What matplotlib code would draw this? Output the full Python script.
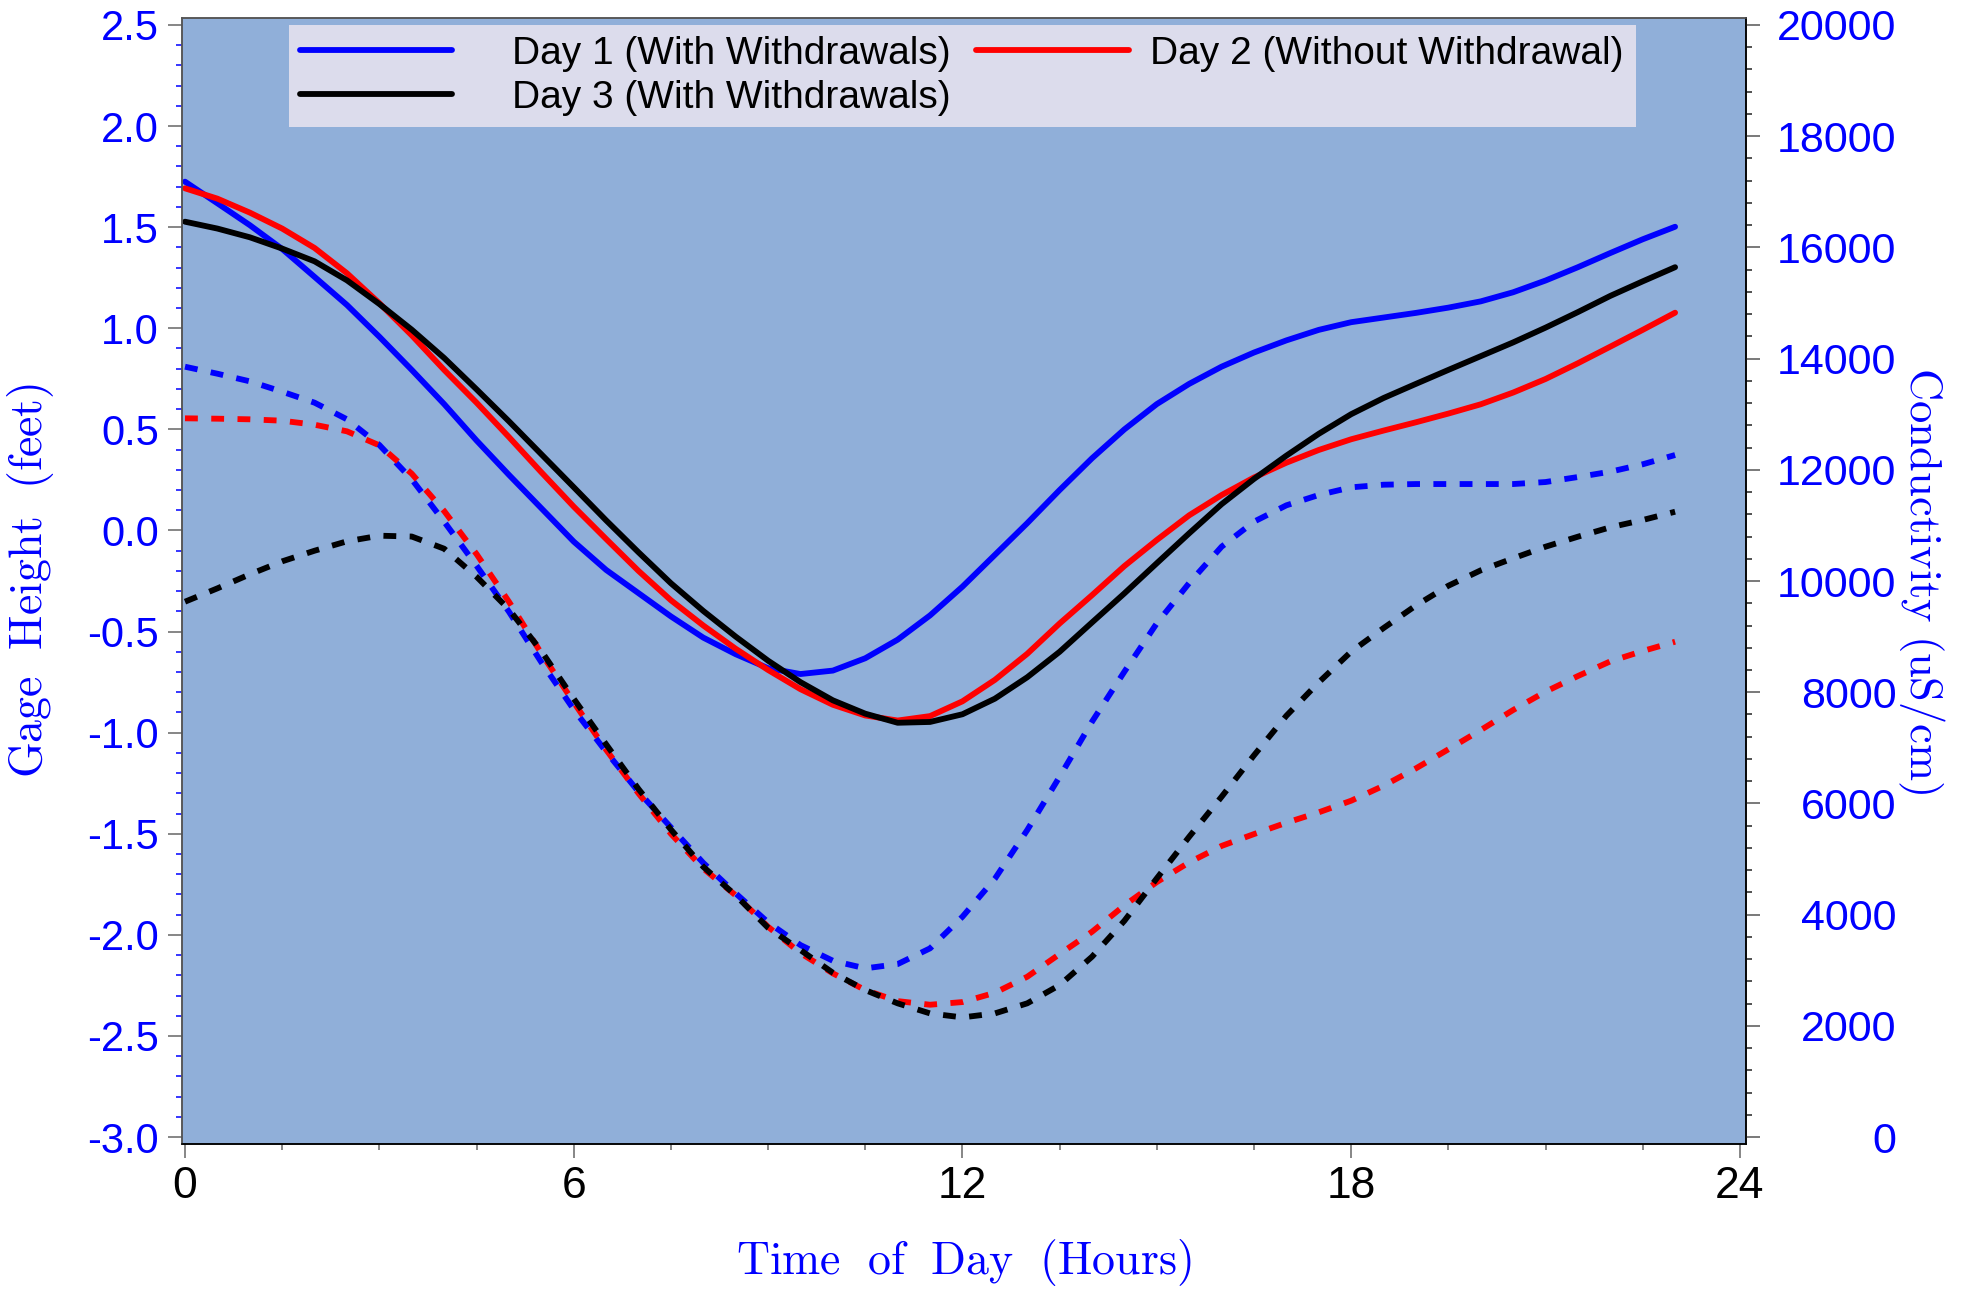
import matplotlib
matplotlib.use("Agg")
import matplotlib.pyplot as plt
from matplotlib.ticker import MultipleLocator, FormatStrFormatter

plt.rcParams['font.family'] = ['Liberation Sans', 'DejaVu Sans']
plt.rcParams['mathtext.fontset'] = 'cm'
plt.rcParams['axes.unicode_minus'] = False

# time of day (hours), read every half hour
hours = [0, 0.5, 1, 1.5, 2, 2.5, 3, 3.5, 4, 4.5, 5, 5.5, 6, 6.5, 7, 7.5, 8, 8.5, 9, 9.5,
         10, 10.5, 11, 11.5, 12, 12.5, 13, 13.5, 14, 14.5, 15, 15.5, 16, 16.5, 17, 17.5,
         18, 18.5, 19, 19.5, 20, 20.5, 21, 21.5, 22, 22.5, 23]

# gage height (feet), left axis
gage_day1 = [1.725, 1.618, 1.51, 1.392, 1.254, 1.115, 0.958, 0.794, 0.625, 0.445,
             0.275, 0.11, -0.055, -0.195, -0.31, -0.425, -0.53, -0.612, -0.681, -0.710,
             -0.693, -0.632, -0.540, -0.42, -0.278, -0.121, 0.036, 0.200, 0.357, 0.50,
             0.625, 0.725, 0.81, 0.88, 0.94, 0.992, 1.030, 1.053, 1.076, 1.102,
             1.133, 1.178, 1.236, 1.302, 1.372, 1.44, 1.502]
gage_day2 = [1.692, 1.641, 1.572, 1.493, 1.397, 1.272, 1.124, 0.965, 0.794, 0.632,
             0.462, 0.288, 0.118, -0.042, -0.200, -0.345, -0.47, -0.585, -0.690, -0.785,
             -0.862, -0.915, -0.940, -0.918, -0.845, -0.739, -0.61, -0.46, -0.32, -0.176,
             -0.047, 0.075, 0.175, 0.262, 0.335, 0.398, 0.451, 0.494, 0.535, 0.578,
             0.624, 0.682, 0.749, 0.827, 0.909, 0.992, 1.077]
gage_day3 = [1.527, 1.493, 1.450, 1.394, 1.331, 1.237, 1.120, 0.993, 0.853, 0.698,
             0.540, 0.377, 0.214, 0.050, -0.108, -0.261, -0.398, -0.525, -0.644, -0.750,
             -0.840, -0.906, -0.951, -0.947, -0.909, -0.832, -0.726, -0.60, -0.455, -0.311,
             -0.162, -0.014, 0.13, 0.255, 0.370, 0.478, 0.575, 0.655, 0.725, 0.794,
             0.862, 0.930, 1.003, 1.080, 1.160, 1.232, 1.302]

# conductivity (uS/cm), right axis
cond_day1 = [13854, 13728, 13591, 13405, 13207, 12908, 12446, 11829, 11067, 10275,
             9448, 8540, 7690, 6930, 6210, 5570, 4930, 4383, 3861, 3453,
             3171, 3034, 3111, 3394, 3962, 4645, 5521, 6480, 7470, 8370,
             9239, 9964, 10617, 11067, 11361, 11547, 11685, 11732, 11744, 11744,
             11744, 11744, 11780, 11870, 11966, 12099, 12266]
cond_day2 = [12926, 12919, 12908, 12883, 12811, 12692, 12440, 11930, 11259, 10485,
             9628, 8699, 7818, 6966, 6181, 5455, 4830, 4347, 3782, 3309,
             2944, 2644, 2445, 2380, 2428, 2595, 2883, 3291, 3692, 4167,
             4586, 4940, 5236, 5449, 5653, 5840, 6049, 6318, 6631, 6973,
             7320, 7680, 8010, 8291, 8555, 8741, 8908]
cond_day3 = [9628, 9868, 10120, 10354, 10545, 10714, 10815, 10800, 10581, 10077,
             9490, 8741, 7883, 7063, 6259, 5530, 4860, 4347, 3764, 3363,
             2955, 2644, 2405, 2224, 2152, 2224, 2405, 2733, 3243, 3890,
             4653, 5401, 6120, 6865, 7577, 8178, 8730, 9154, 9560, 9915,
             10192, 10408, 10617, 10797, 10966, 11097, 11246]

labels = ['Day 1 (With Withdrawals)', 'Day 2 (Without Withdrawal)', 'Day 3 (With Withdrawals)']
colors = ['#0000FF', '#FF0000', '#000000']

fig = plt.figure(figsize=(19.65, 12.90), dpi=100)
ax = fig.add_axes([0.0925, 0.1129, 0.7959, 0.8734])
ax.set_facecolor('#90AFD9')
ax2 = ax.twinx()

lw = 4.2
lines = []
for g, c, lab in zip([gage_day1, gage_day2, gage_day3], colors, labels):
    l, = ax.plot(hours, g, color=c, lw=lw, solid_capstyle='round',
                 solid_joinstyle='round', label=lab)
    lines.append(l)
for k, c in zip([cond_day1, cond_day2, cond_day3], colors):
    ax2.plot(hours, k, color=c, lw=lw, linestyle=(0, (2.2, 2.3)), dash_capstyle='butt')

ax.set_xlim(-0.05, 24.09)
ax.set_ylim(-3.036, 2.536)
ax2.set_ylim(-131, 20131)

ax.xaxis.set_major_locator(MultipleLocator(6))
ax.xaxis.set_minor_locator(MultipleLocator(1.5))
ax.yaxis.set_major_locator(MultipleLocator(0.5))
ax.yaxis.set_minor_locator(MultipleLocator(0.1))
ax.yaxis.set_major_formatter(FormatStrFormatter('%.1f'))
ax2.yaxis.set_major_locator(MultipleLocator(2000))
ax2.yaxis.set_minor_locator(MultipleLocator(400))

ax.tick_params(axis='x', which='major', direction='out', length=10, width=1.1,
               color='#666666', labelsize=32, labelcolor='black', pad=5.5)
ax.tick_params(axis='x', which='minor', direction='out', length=4.3, width=1.1, color='#666666')
ax.tick_params(axis='y', which='major', direction='out', length=10, width=1.1,
               color='#666666', labelsize=30, labelcolor='#0000FF', pad=6.3)
ax.tick_params(axis='y', which='minor', direction='out', length=4.3, width=1.1, color='#0000FF')
ax2.tick_params(axis='y', which='major', direction='out', length=10, width=1.1,
                color='#555555', labelsize=31, labelcolor='#0000FF', pad=98.6)
ax2.tick_params(axis='y', which='minor', direction='out', length=4.3, width=1.1, color='#222222')
plt.setp(ax2.get_yticklabels(), ha='right')

for a in (ax, ax2):
    for s in a.spines.values():
        s.set_linewidth(1.1)
    a.spines['top'].set_color('#555555')
    a.spines['left'].set_color('#555555')
    a.spines['bottom'].set_color('black')
    a.spines['right'].set_color('black')

ax.set_xlabel(r'$\mathrm{Time\ \ of\ \ Day\ \ (Hours)}$', color='#0000FF', fontsize=33, va='center')
ax.xaxis.set_label_coords(0.5, -0.1045)
ax.set_ylabel(r'$\mathrm{Gage\ \ Height\ \ (feet)}$', color='#0000FF', fontsize=33, va='center')
ax.yaxis.set_label_coords(-0.0964, 0.5)
ax2.set_ylabel(r'$\mathrm{Conductivity\ (uS/cm)}$', color='#0000FF', fontsize=32,
               rotation=270, va='center')
ax2.yaxis.set_label_coords(1.1121, 0.5)

# legend: shaded box with Day 1 / Day 3, Day 2 placed in the second column
leg_kw = dict(fontsize=28, handlelength=3.93, borderpad=0.28, borderaxespad=0,
              labelspacing=0.21)
leg1 = ax.legend([lines[0], lines[2]], [labels[0], labels[2]], loc='upper left',
                 bbox_to_anchor=(0.0684, 0.9, 0.8616, 0.0935), mode='expand',
                 frameon=True, fancybox=False, facecolor='#DCDCEC', edgecolor='none',
                 framealpha=1, handletextpad=1.52, **leg_kw)
ax.add_artist(leg1)
leg2 = ax.legend([lines[1]], [labels[1]], loc='upper left', bbox_to_anchor=(0.5007, 0.9935),
                 frameon=False, handletextpad=0.55, **leg_kw)
leg2.set_zorder(6)

fig.savefig('out.png', dpi=100)
